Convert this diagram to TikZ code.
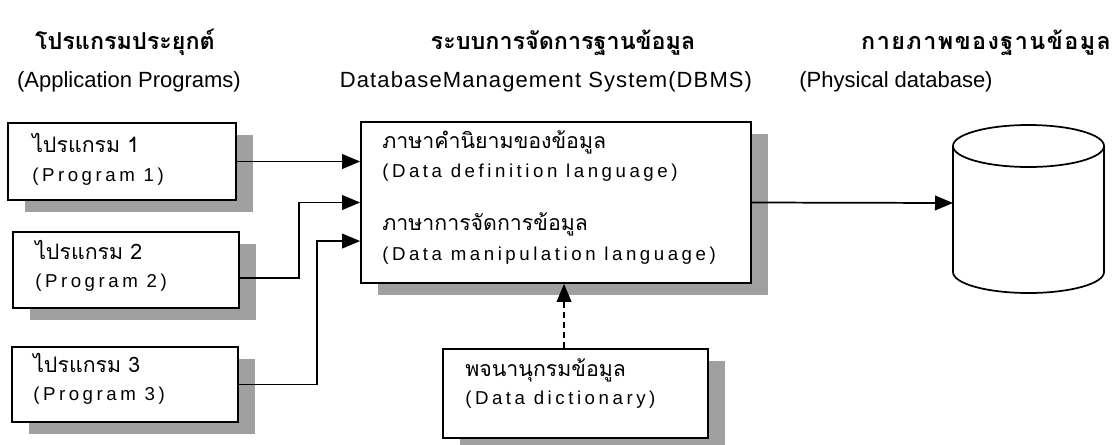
\documentclass[tikz,border=0pt]{standalone}
\usepackage{fontspec}
\setmainfont{Liberation Sans}
\newfontfamily\thaifont[Script=Thai]{Loma}
\newfontfamily\boxfont[LetterSpace=19]{Liberation Sans}
\newfontfamily\dbmsfont[LetterSpace=5]{Liberation Sans}
\usetikzlibrary{arrows.meta,shadows}
\definecolor{shgray}{RGB}{160,160,160}
\newcommand\thsp{\hspace{1.1pt}}
\begin{document}
\begin{tikzpicture}[x=0.75pt,y=-0.75pt,
  box/.style={draw=black, line width=1.3pt, fill=white, inner sep=0pt,
    general shadow={fill=shgray, shadow xshift=12.75pt, shadow yshift=-9pt}},
  conn/.style={line width=1.3pt, -{Triangle[length=13.5pt,width=11pt]}},
  dconn/.style={conn, dash pattern=on 4.5pt off 3pt},
  headth/.style={anchor=base, inner sep=0pt, font=\thaifont\bfseries\fontsize{17.5pt}{20pt}\selectfont},
  headen/.style={anchor=base, inner sep=0pt, font=\fontsize{16.5pt}{20pt}\selectfont},
  txtth/.style={anchor=base west, inner sep=0pt, font=\thaifont\fontsize{16pt}{18pt}\selectfont},
  txten/.style={anchor=base west, inner sep=0pt, font=\boxfont\fontsize{14pt}{16pt}\selectfont},
  cyl/.style={line width=1.3pt}
]
\useasboundingbox (0,0) rectangle (1114,444);
\fill[white] (0,0) rectangle (1114,444);

% headings
\node[headth] (h1) at (125,49) {โปรแกรมประยุกต์};
\node[headen] (h1e) at (129,87) {(Application Programs)};
\node[headth] (h2) at (563,49) {ระบบการจัดการฐานข้อมูล};
\node[headen, font=\dbmsfont\fontsize{16.5pt}{20pt}\selectfont] (h2e) at (546,87) {DatabaseManagement System(DBMS)};
\node[headth] (h3) at (986,49) {ก\thsp า\thsp ย\thsp ภ\thsp า\thsp พ\thsp ข\thsp อ\thsp ง\thsp ฐ\thsp า\thsp น\thsp ข้\thsp อ\thsp มู\thsp ล};
\node[headen] (h3e) at (896,87) {(Physical database)};

% boxes
\node[box, minimum width=171pt, minimum height=57.75pt] (p1) at (122,161.5) {};
\node[box, minimum width=169.5pt, minimum height=57pt] (p2) at (126,270) {};
\node[box, minimum width=169.5pt, minimum height=56.25pt] (p3) at (125,384.5) {};
\node[box, minimum width=292.5pt, minimum height=120.75pt] (dbms) at (556,202.5) {};
\node[box, minimum width=198.75pt, minimum height=66.75pt] (dd) at (575.5,393.5) {};

% box texts
\node[txtth] (p1t) at (32,152) {ไปรแกรม 1};
\node[txten] (p1e) at (32,181) {(Program 1)};
\node[txtth] (p2t) at (35,259) {ไปรแกรม 2};
\node[txten] (p2e) at (35,287) {(Program 2)};
\node[txtth] (p3t) at (33,372) {ไปรแกรม 3};
\node[txten] (p3e) at (33,400) {(Program 3)};
\node[txtth] (d1t) at (382,148) {ภาษาคำนิยามของข้อมูล};
\node[txten] (d1e) at (382,177) {(Data definition language)};
\node[txtth] (d2t) at (382,230) {ภาษาการจัดการข้อมูล};
\node[txten] (d2e) at (382,260) {(Data manipulation language)};
\node[txtth] (ddt) at (465,376) {พจนานุกรมข้อมูล};
\node[txten] (dde) at (465,404) {(Data dictionary)};

% cylinder
\draw[cyl, fill=white] (953,146) -- (953,272) arc[start angle=180, end angle=360, x radius=56.625pt, y radius=15.75pt] -- (1104,146);
\draw[cyl, fill=white] (1028.5,146) ellipse [x radius=56.625pt, y radius=15.75pt];
\coordinate (db) at (953,203);

% connectors
\draw[conn] (p1.east) -- (p1.east -| dbms.west);
\draw[conn] ([yshift=-6pt]p2.east) -- ++(59,0) |- (dbms.west);
\draw[conn] (p3.east) -- ++(78,0) |- ([yshift=-28.9pt]dbms.west);
\draw[conn] (dbms.east) -- (db);
\draw[dconn] ([xshift=-8.6pt]dd.north) -- ([xshift=-8.6pt]dd.north |- dbms.south);
\end{tikzpicture}
\end{document}
